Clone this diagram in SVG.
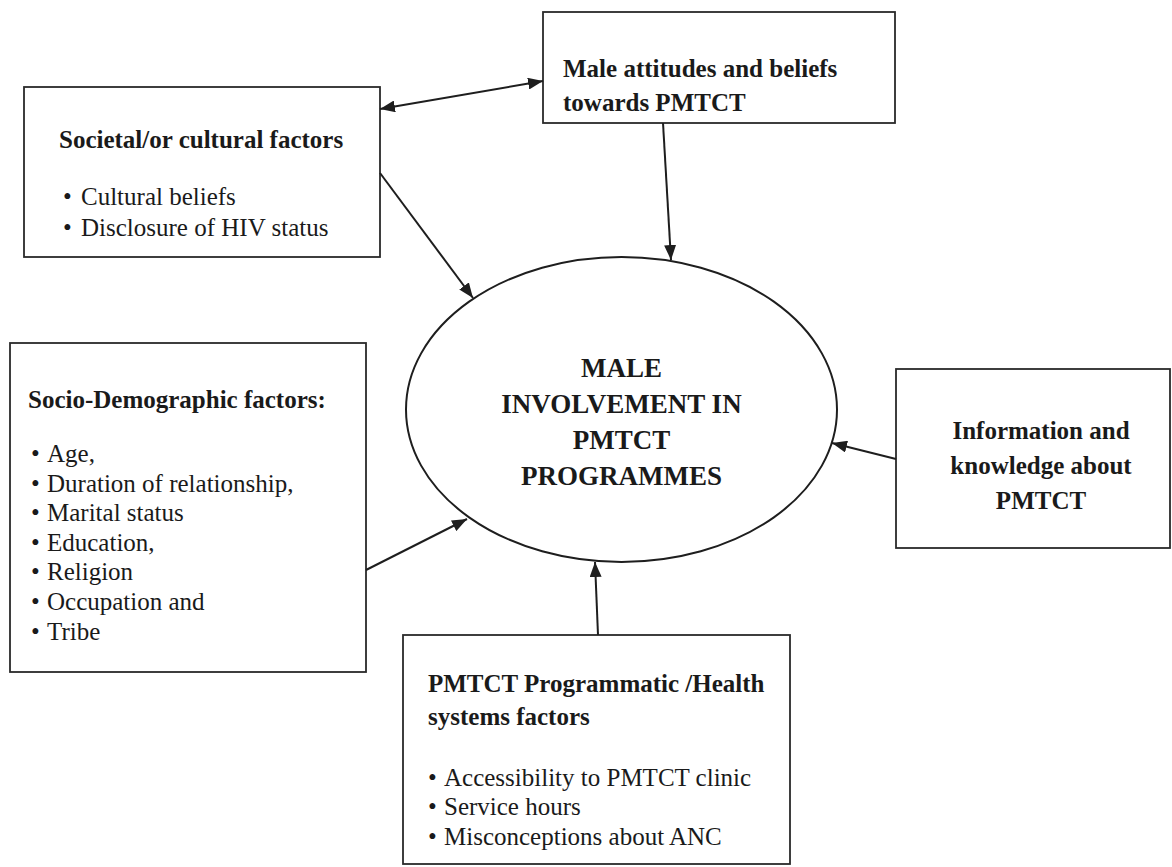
<svg xmlns="http://www.w3.org/2000/svg" width="1172" height="867" viewBox="0 0 1172 867">
<style>
.box{fill:#fff;stroke:#2a2a2a;stroke-width:1.8}
.ell{fill:#fff;stroke:#1e1e1e;stroke-width:2}
.t{font-family:"Liberation Serif","Times New Roman",serif;font-size:25px;fill:#1a1a1a}
.b{font-weight:bold}
.c{text-anchor:middle}
.e{font-family:"Liberation Serif","Times New Roman",serif;font-size:27px;font-weight:bold;fill:#1a1a1a;text-anchor:middle}
.con line{stroke:#1e1e1e;stroke-width:2;fill:none}
</style>
<defs>
<marker id="ah" markerUnits="userSpaceOnUse" markerWidth="16" markerHeight="12" refX="15" refY="6" orient="auto-start-reverse">
<path d="M0,0 L15,6 L0,12 z" fill="#1e1e1e"/>
</marker>
</defs>
<rect width="1172" height="867" fill="#fff"/>

<g id="societal">
<rect class="box" x="24" y="87" width="356" height="170"/>
<text class="t b" x="59" y="148">Societal/or cultural factors</text>
<text class="t" x="63" y="205">•</text><text class="t" x="81" y="205">Cultural beliefs</text>
<text class="t" x="63" y="236">•</text><text class="t" x="81" y="236">Disclosure of HIV status</text>
</g>

<g id="male-attitudes">
<rect class="box" x="543" y="12" width="352" height="111"/>
<text class="t b" x="563" y="77">Male attitudes and beliefs</text>
<text class="t b" x="563" y="111">towards PMTCT</text>
</g>

<g id="socio-demographic">
<rect class="box" x="10" y="343" width="356" height="329"/>
<text class="t b" x="28" y="408">Socio-Demographic factors:</text>
<text class="t" x="31" y="462">•</text><text class="t" x="47" y="462">Age,</text>
<text class="t" x="31" y="492">•</text><text class="t" x="47" y="492">Duration of relationship,</text>
<text class="t" x="31" y="521">•</text><text class="t" x="47" y="521">Marital status</text>
<text class="t" x="31" y="551">•</text><text class="t" x="47" y="551">Education,</text>
<text class="t" x="31" y="580">•</text><text class="t" x="47" y="580">Religion</text>
<text class="t" x="31" y="610">•</text><text class="t" x="47" y="610">Occupation and</text>
<text class="t" x="31" y="640">•</text><text class="t" x="47" y="640">Tribe</text>
</g>

<g id="center">
<ellipse class="ell" cx="621.5" cy="409.5" rx="215.5" ry="152.5"/>
<text class="e" x="621.5" y="377">MALE</text>
<text class="e" x="621.5" y="413">INVOLVEMENT IN</text>
<text class="e" x="621.5" y="449">PMTCT</text>
<text class="e" x="621.5" y="485">PROGRAMMES</text>
</g>

<g id="information">
<rect class="box" x="896" y="369" width="274" height="179"/>
<text class="t b c" x="1041" y="439">Information and</text>
<text class="t b c" x="1041" y="474">knowledge about</text>
<text class="t b c" x="1041" y="509">PMTCT</text>
</g>

<g id="programmatic">
<rect class="box" x="403" y="635" width="387" height="229"/>
<text class="t b" x="428" y="692">PMTCT Programmatic /Health</text>
<text class="t b" x="428" y="725">systems factors</text>
<text class="t" x="428" y="786">•</text><text class="t" x="444" y="786">Accessibility to PMTCT clinic</text>
<text class="t" x="428" y="815">•</text><text class="t" x="444" y="815">Service hours</text>
<text class="t" x="428" y="845">•</text><text class="t" x="444" y="845">Misconceptions about ANC</text>
</g>

<g id="connectors" class="con">
<line x1="380" y1="109" x2="543" y2="81" marker-start="url(#ah)" marker-end="url(#ah)"/>
<line x1="663" y1="123" x2="671" y2="260" marker-end="url(#ah)"/>
<line x1="380" y1="173" x2="473" y2="298" marker-end="url(#ah)"/>
<line x1="366" y1="570" x2="467" y2="519" marker-end="url(#ah)"/>
<line x1="598" y1="635" x2="595" y2="562" marker-end="url(#ah)"/>
<line x1="896" y1="459" x2="832" y2="443" marker-end="url(#ah)"/>
</g>
</svg>
